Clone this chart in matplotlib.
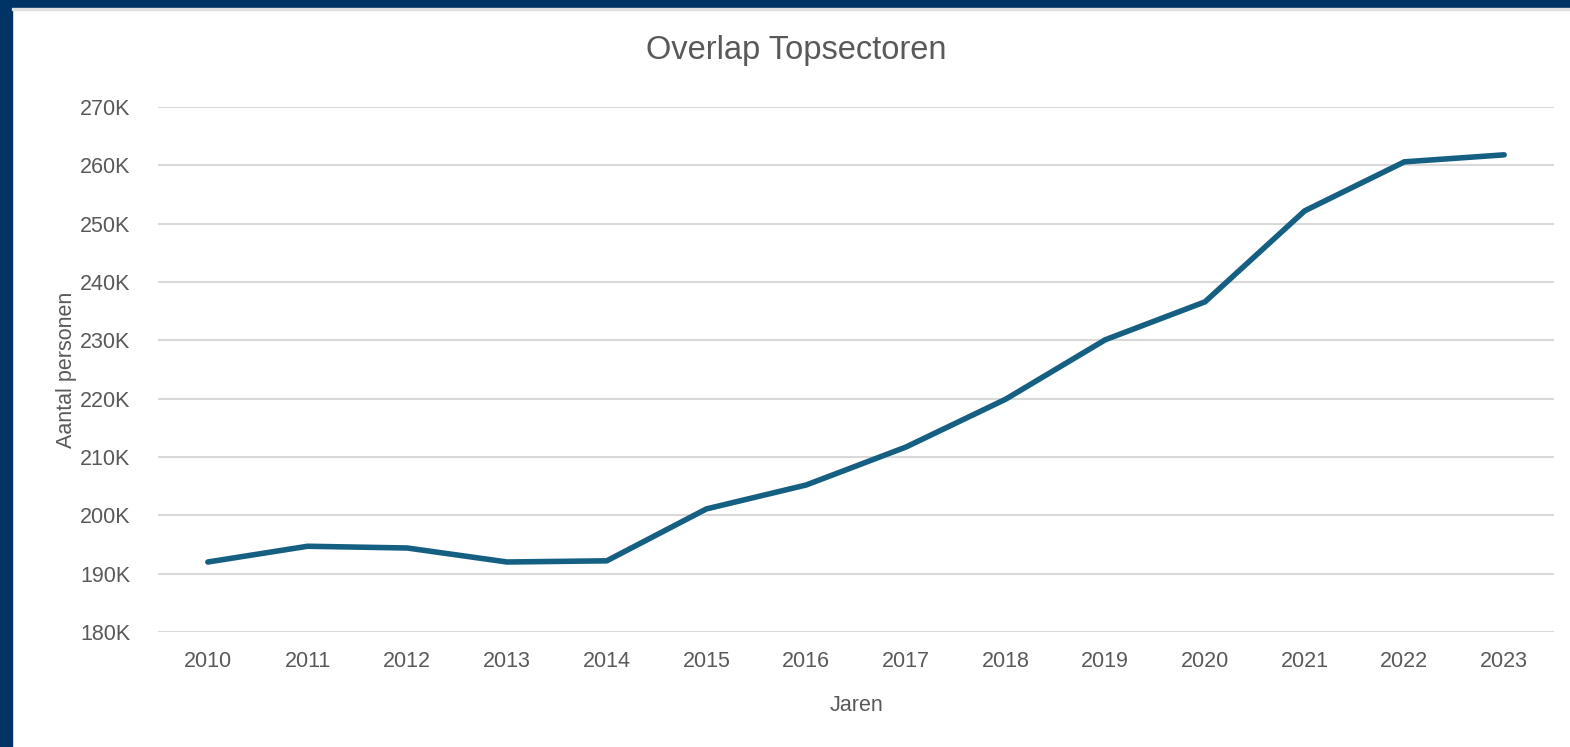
import matplotlib.pyplot as plt
from matplotlib.patches import Rectangle
from matplotlib.ticker import FuncFormatter

# Data (thousands of persons)
years = ['2010', '2011', '2012', '2013', '2014', '2015', '2016',
         '2017', '2018', '2019', '2020', '2021', '2022', '2023']
persons_k = [192.0, 194.7, 194.4, 192.0, 192.2, 201.1, 205.2,
             211.7, 219.9, 230.1, 236.6, 252.2, 260.6, 261.8]
y_ticks = [180, 190, 200, 210, 220, 230, 240, 250, 260, 270]

plt.rcParams['font.family'] = ['Liberation Sans', 'DejaVu Sans']
text_col = '#595959'

W, H = 1570, 747
fig = plt.figure(figsize=(W / 100, H / 100), dpi=100)
fig.patch.set_facecolor('white')

# dark blue frame on top and left
fig.add_artist(Rectangle((0, 1 - 8 / H), 1, 8 / H, transform=fig.transFigure,
                         color='#003366', zorder=0))
fig.add_artist(Rectangle((0, 0), 12 / W, 1, transform=fig.transFigure,
                         color='#003366', zorder=0))
fig.add_artist(Rectangle((12 / W, 1 - 10 / H), 1, 2 / H, transform=fig.transFigure,
                         color='#E0E0E0', zorder=0))

ax = fig.add_axes([158 / W, 1 - 632 / H, (1554 - 158) / W, (632 - 107) / H])
x = list(range(len(years)))
ax.plot(x, persons_k, color='#156082', lw=4.0, solid_capstyle='round',
        solid_joinstyle='round', zorder=3)

ax.set_xlim(-0.5, len(years) - 0.5)
ax.set_ylim(180, 270)
ax.set_yticks(y_ticks)
ax.yaxis.set_major_formatter(FuncFormatter(lambda v, p: f'{v:.0f}K'))
ax.set_xticks(x)
ax.set_xticklabels(years)

ax.grid(axis='y', color='#D9D9D9', lw=1.5)
ax.set_axisbelow(True)
for s in ax.spines.values():
    s.set_visible(False)
ax.tick_params(axis='both', length=0, labelsize=15.5, labelcolor=text_col)
ax.tick_params(axis='y', pad=20)
ax.tick_params(axis='x', pad=14)

ax.set_xlabel('Jaren', fontsize=15.5, color=text_col, labelpad=16)
ax.set_ylabel('Aantal personen', fontsize=15.5, color=text_col, labelpad=2)
fig.text(796 / W, 1 - 50 / H, 'Overlap Topsectoren', fontsize=23.5,
         color=text_col, ha='center', va='center')

fig.savefig('out.png', dpi=100, facecolor='white')
